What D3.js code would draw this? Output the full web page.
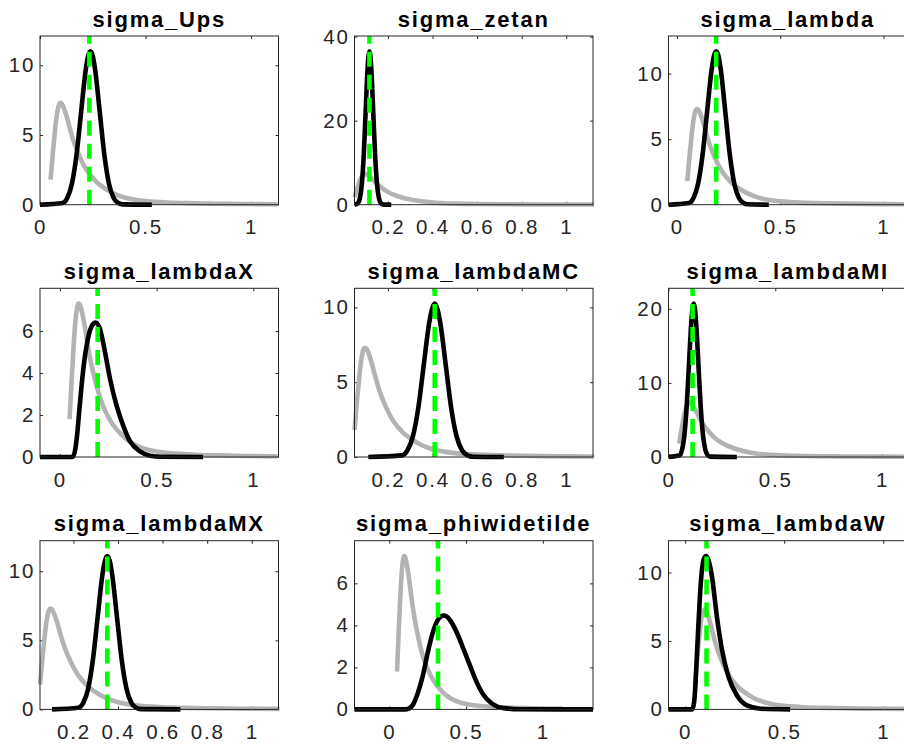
<!DOCTYPE html>
<html><head><meta charset="utf-8">
<script src="https://cdn.jsdelivr.net/npm/d3@7"></script>
<style>body{margin:0;background:#fff} svg{display:block}</style>
</head><body>
<svg id="c" width="904" height="744"></svg>
<script>
const titles = ["sigma_Ups","sigma_zetan","sigma_lambda","sigma_lambdaX","sigma_lambdaMC","sigma_lambdaMI","sigma_lambdaMX","sigma_phiwidetilde","sigma_lambdaW"];

// prior density (same prior for all parameters)
const priorX = [0.05,0.054,0.058,0.062,0.066,0.071,0.076,0.081,0.086,0.091,0.096,0.101,0.107,0.115,0.125,0.14,0.155,0.17,0.185,0.2,0.22,0.245,0.27,0.29,0.32,0.35,0.38,0.41,0.45,0.5,0.55,0.6,0.7,0.8,0.9,1.0,1.125];
const priorY = [1.8,2.5,3.2,3.9,4.5,5.3,6.0,6.55,6.95,7.2,7.3,7.28,7.15,6.85,6.4,5.55,4.75,4.1,3.55,3.05,2.5,2.0,1.6,1.35,1.05,0.8,0.62,0.48,0.36,0.26,0.2,0.16,0.11,0.08,0.06,0.045,0.035];

// posterior densities
const post1X = [0,0.107,0.129,0.151,0.173,0.195,0.217,0.228,0.239,0.25,0.261,0.283,0.305,0.327,0.349,0.371,0.393,0.53];
const post1Y = [0,0.12,0.48,1.49,3.57,6.67,9.71,10.66,11.0,10.66,9.71,6.67,3.57,1.49,0.48,0.12,0.02,0];
const post2X = [0.05,0.066,0.0745,0.083,0.0915,0.1,0.1085,0.1128,0.117,0.1212,0.1255,0.134,0.1425,0.151,0.1595,0.168,0.176,0.215];
const post2Y = [0,0.41,1.6,4.94,11.85,22.14,32.2,35.38,36.5,35.38,32.2,22.14,11.85,4.94,1.6,0.41,0.08,0];
const post3X = [-0.041,0.058,0.08,0.102,0.124,0.146,0.168,0.179,0.19,0.201,0.212,0.234,0.256,0.278,0.30,0.322,0.344,0.445];
const post3Y = [0,0.13,0.51,1.58,3.8,7.1,10.32,11.34,11.7,11.34,10.32,7.1,3.8,1.58,0.51,0.13,0.03,0];
const post4X = [-0.103,0.065,0.08,0.09,0.1,0.112,0.125,0.138,0.15,0.164,0.175,0.186,0.197,0.207,0.22,0.233,0.259,0.293,0.328,0.362,0.414,0.466,0.52,0.74];
const post4Y = [0,0,0.4,1.15,2.2,3.4,4.5,5.3,5.85,6.22,6.36,6.4,6.3,6.1,5.6,5.0,3.72,2.44,1.47,0.75,0.27,0.06,0.01,0];
const post5X = [0.112,0.263,0.2875,0.312,0.3365,0.361,0.3855,0.3978,0.41,0.4222,0.4345,0.459,0.4835,0.508,0.5325,0.557,0.58,0.72];
const post5Y = [0,0.11,0.45,1.38,3.31,6.19,9.0,9.89,10.25,9.89,9.0,6.19,3.31,1.38,0.45,0.11,0.02,0];
const post6X = [0,0.052,0.063,0.074,0.085,0.096,0.107,0.1125,0.118,0.1235,0.129,0.14,0.151,0.162,0.173,0.184,0.195,0.32];
const post6Y = [0,0.23,0.91,2.8,6.72,12.55,18.27,20.06,20.7,20.06,18.27,12.55,6.72,2.8,0.91,0.23,0.05,0];
const post7X = [0.104,0.223,0.2445,0.266,0.2875,0.309,0.3305,0.3413,0.352,0.3628,0.3735,0.395,0.4165,0.438,0.4595,0.481,0.503,0.68];
const post7Y = [0,0.12,0.49,1.5,3.6,6.73,9.8,10.76,11.1,10.76,9.8,6.73,3.6,1.5,0.49,0.12,0.02,0];
const post8X = [-0.227,0.10,0.13,0.151,0.184,0.216,0.249,0.281,0.313,0.335,0.356,0.378,0.4,0.443,0.486,0.529,0.572,0.615,0.67,0.745,0.85,1.327];
const post8Y = [0,0,0.05,0.19,0.75,1.54,2.66,3.61,4.22,4.42,4.47,4.4,4.2,3.6,2.82,2.02,1.25,0.67,0.27,0.06,0.01,0];
const post9X = [-0.084,0.035,0.045,0.052,0.059,0.067,0.076,0.085,0.095,0.106,0.118,0.135,0.16,0.186,0.219,0.261,0.312,0.38,0.53];
const post9Y = [0,0,0.5,1.8,3.86,6.2,8.6,10.2,11.0,11.2,10.9,9.75,6.8,4.35,2.38,1.03,0.29,0.05,0];

// posterior modes (green dashed line)
const modes = [0.234,0.117,0.19,0.195,0.41,0.113,0.352,0.317,0.108];

// axis limits and ticks
const xLims = [[0,1.13],[0.05,1.12],[-0.041,1.114],[-0.103,1.13],[0.05,1.12],[0,1.117],[0.05,1.12],[-0.227,1.327],[-0.084,1.12]];
const xTicks = [[0,0.5,1],[0.2,0.4,0.6,0.8,1],[0,0.5,1],[0,0.5,1],[0.2,0.4,0.6,0.8,1],[0,0.5,1],[0.2,0.4,0.6,0.8,1],[0,0.5,1],[0,0.5,1]];
const yTicks = [[0,5,10],[0,20,40],[0,5,10],[0,2,4,6],[0,5,10],[0,10,20],[0,5,10],[0,2,4,6],[0,5,10]];

const postX = [post1X,post2X,post3X,post4X,post5X,post6X,post7X,post8X,post9X];
const postY = [post1Y,post2Y,post3Y,post4Y,post5Y,post6Y,post7Y,post8Y,post9Y];

const svg = d3.select("#c");
svg.append("rect").attr("width",904).attr("height",744).attr("fill","#fff");
const FONT = "'Liberation Sans', Arial, Helvetica, sans-serif";
const colLeft = [40, 354.5, 668.5], rowTop = [36, 288.3, 540.7];
const W = 238.5, H = 168.7;
const axCol = "#262626";
const LW = 4.6;

titles.forEach((t, i) => {
  const g = svg.append("g").attr("transform", `translate(${colLeft[i%3]},${rowTop[Math.floor(i/3)]})`);
  const x = d3.scaleLinear().domain(xLims[i]).range([0, W]);
  const yMax = 1.1 * Math.max(d3.max(priorY), d3.max(postY[i]));
  const y = d3.scaleLinear().domain([0, yMax]).range([H, 0]);

  const styleAxis = (sel, showLabels) => {
    sel.select(".domain").remove();
    sel.selectAll(".tick line").attr("stroke", axCol).attr("stroke-width", 1);
    sel.selectAll(".tick text").attr("fill", axCol).attr("font-size", 20.5)
      .attr("font-family", FONT).style("letter-spacing", "1.8px");
    if (!showLabels) sel.selectAll(".tick text").remove();
  };
  g.append("g").attr("transform", `translate(0,${H})`)
    .call(d3.axisBottom(x).tickValues(xTicks[i]).tickSize(-3).tickPadding(15).tickFormat(d3.format("~g")))
    .call(s => styleAxis(s, true));
  g.append("g")
    .call(d3.axisTop(x).tickValues(xTicks[i]).tickSize(-3).tickFormat(""))
    .call(s => styleAxis(s, false));
  g.append("g")
    .call(d3.axisLeft(y).tickValues(yTicks[i]).tickSize(-3).tickPadding(4.8).tickFormat(d3.format("~g")))
    .call(s => styleAxis(s, true));
  g.append("g").attr("transform", `translate(${W},0)`)
    .call(d3.axisRight(y).tickValues(yTicks[i]).tickSize(-3).tickFormat(""))
    .call(s => styleAxis(s, false));

  const line = d3.line().x(d => x(d[0])).y(d => y(d[1])).curve(d3.curveMonotoneX);

  g.append("path").datum(d3.zip(priorX, priorY))
    .attr("d", line).attr("fill", "none").attr("stroke", "#b3b3b3")
    .attr("stroke-width", LW).attr("stroke-linejoin", "round");
  g.append("path").datum(d3.zip(postX[i], postY[i]))
    .attr("d", line).attr("fill", "none").attr("stroke", "#000")
    .attr("stroke-width", LW).attr("stroke-linejoin", "round");
  g.append("line")
    .attr("x1", x(modes[i])).attr("x2", x(modes[i]))
    .attr("y1", y(0)).attr("y2", y(yMax))
    .attr("stroke", "#00ff00").attr("stroke-width", LW).attr("stroke-dasharray", "15,8");

  g.append("rect").attr("x", 0).attr("y", 0).attr("width", W).attr("height", H)
    .attr("fill", "none").attr("stroke", axCol).attr("stroke-width", 1);

  g.append("text").attr("x", W/2).attr("y", -9.3).attr("text-anchor", "middle")
    .attr("font-family", FONT).attr("font-weight", "bold").attr("font-size", 22)
    .style("letter-spacing", "1.8px").attr("fill", "#000").text(t);
});
</script>
</body></html>
